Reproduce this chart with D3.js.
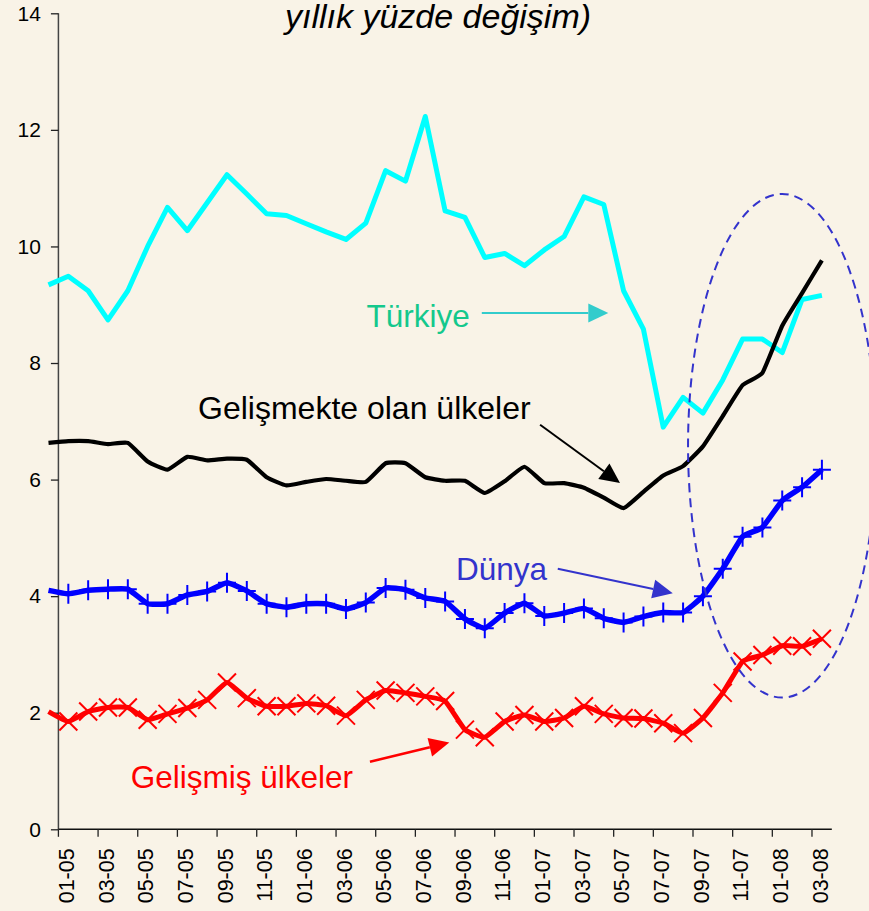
<!DOCTYPE html>
<html>
<head>
<meta charset="utf-8">
<script src="https://cdn.jsdelivr.net/npm/d3@7"></script>
<style>
  html, body { margin: 0; padding: 0; background: #f9f3e7; }
  svg { display: block; font-family: "Liberation Sans", Arial, sans-serif; }
</style>
</head>
<body>
<svg id="chart" width="869" height="911"></svg>
<script>
// Months (MM-YY), December 2004 through March 2008
const months = [
  "12-04",
  "01-05","02-05","03-05","04-05","05-05","06-05","07-05","08-05","09-05","10-05","11-05","12-05",
  "01-06","02-06","03-06","04-06","05-06","06-06","07-06","08-06","09-06","10-06","11-06","12-06",
  "01-07","02-07","03-07","04-07","05-07","06-07","07-07","08-07","09-07","10-07","11-07","12-07",
  "01-08","02-08","03-08"
];

// Annual % change by group
const turkiye = [9.34, 9.49, 9.24, 8.74, 9.24, 10.0, 10.67, 10.27, 10.75, 11.23,
                 10.9, 10.56, 10.53, 10.39, 10.25, 10.12, 10.40, 11.30, 11.12, 12.23,
                 10.61, 10.50, 9.81, 9.88, 9.67, 9.94, 10.17, 10.85, 10.72, 9.24,
                 8.58, 6.90, 7.41, 7.14, 7.71, 8.41, 8.41, 8.18, 9.09, 9.16];
const gelismekte = [6.63, 6.66, 6.66, 6.61, 6.63, 6.31, 6.17, 6.39, 6.33, 6.36,
                    6.34, 6.04, 5.90, 5.96, 6.01, 5.98, 5.96, 6.28, 6.28, 6.04,
                    5.98, 5.98, 5.77, 5.97, 6.22, 5.94, 5.94, 5.86, 5.69, 5.51,
                    5.79, 6.07, 6.23, 6.57, 7.09, 7.62, 7.83, 8.64, 9.20, 9.76];
const dunya = [4.10, 4.04, 4.10, 4.12, 4.12, 3.87, 3.87, 4.02, 4.08, 4.23,
               4.09, 3.87, 3.81, 3.87, 3.87, 3.78, 3.89, 4.14, 4.11, 3.97,
               3.91, 3.61, 3.45, 3.71, 3.88, 3.66, 3.71, 3.79, 3.62, 3.55,
               3.65, 3.72, 3.72, 4.00, 4.47, 5.02, 5.18, 5.64, 5.87, 6.17];
const gelismis = [2.02, 1.85, 2.02, 2.09, 2.09, 1.88, 1.98, 2.08, 2.22, 2.52,
                  2.25, 2.11, 2.11, 2.16, 2.12, 1.95, 2.22, 2.38, 2.34, 2.28,
                  2.20, 1.71, 1.58, 1.85, 1.96, 1.85, 1.91, 2.11, 1.98, 1.91,
                  1.90, 1.82, 1.65, 1.91, 2.34, 2.88, 2.99, 3.15, 3.14, 3.27];

const yTicks = [0, 2, 4, 6, 8, 10, 12, 14];
const titleText = "yıllık yüzde değişim)";

const svg = d3.select("#chart");

// month index -> x, value -> y
const x = d3.scaleLinear().domain([0, months.length - 1]).range([48.5, 821.9]);
const y = d3.scaleLinear().domain([0, 14]).range([829.3, 13.3]);

// Title (its first line lies above the frame)
svg.append("text")
  .attr("x", 438).attr("y", 27.5)
  .attr("text-anchor", "middle")
  .attr("font-size", 34).attr("font-style", "italic")
  .attr("fill", "#000")
  .text(titleText);

// Y axis
const yAxis = svg.append("g").attr("transform", `translate(${x(0.5)},0)`)
  .call(d3.axisLeft(y).tickValues(yTicks).tickSize(7.5).tickPadding(10).tickFormat(d3.format("d")));
yAxis.select(".domain").attr("stroke", "#444").attr("stroke-width", 1.5).attr("d", `M0,${y(14)}V${y(0)}`);
yAxis.selectAll(".tick line").attr("stroke", "#222").attr("stroke-width", 1.3);
yAxis.selectAll(".tick text").attr("font-size", 21).attr("fill", "#000")
  .attr("font-family", "'Liberation Sans', Arial, sans-serif");

// X axis: ticks between months (every second boundary), labels at odd months
const tickIdx = d3.range(0.5, months.length - 1, 2);
const labelIdx = d3.range(1, months.length, 2);
const xg = svg.append("g");
xg.append("line")
  .attr("x1", x(0.5)).attr("x2", x(months.length - 0.5))
  .attr("y1", y(0)).attr("y2", y(0))
  .attr("stroke", "#111").attr("stroke-width", 1.5);
xg.selectAll("line.tk").data(tickIdx).join("line").attr("class", "tk")
  .attr("x1", d => x(d)).attr("x2", d => x(d))
  .attr("y1", y(0)).attr("y2", y(0) + 7.5)
  .attr("stroke", "#222").attr("stroke-width", 1.3);
xg.selectAll("text").data(labelIdx).join("text")
  .attr("transform", d => `translate(${x(d) - 2},${y(0) + 19}) rotate(-90)`)
  .attr("text-anchor", "end").attr("dy", "0.36em")
  .attr("font-size", 21.5).attr("fill", "#000")
  .text(d => months[d]);

// Series lines
const soft = d3.curveCardinal.tension(0.6);
const series = [
  { values: turkiye,    color: "#00ffff", width: 5,   curve: d3.curveLinear, marker: null },
  { values: gelismekte, color: "#000000", width: 4.2, curve: soft, marker: null },
  { values: dunya,      color: "#0000ff", width: 5.5, curve: soft, marker: "plus" },
  { values: gelismis,   color: "#ff0000", width: 5,   curve: soft, marker: "cross" }
];

series.forEach(s => {
  const line = d3.line().x((d, i) => x(i)).y(d => y(d)).curve(s.curve);
  svg.append("path").datum(s.values)
    .attr("d", line)
    .attr("fill", "none")
    .attr("stroke", s.color)
    .attr("stroke-width", s.width)
    .attr("stroke-linejoin", "round");
  if (s.marker) {
    const pts = s.values.map((v, i) => ({ i, v })).filter(p => p.i > 0);
    const h = 9;
    const path = s.marker === "plus"
      ? p => `M${x(p.i) - h},${y(p.v)}H${x(p.i) + h}M${x(p.i)},${y(p.v) - h - 1}V${y(p.v) + h + 1}`
      : p => `M${x(p.i) - h},${y(p.v) - h}L${x(p.i) + h},${y(p.v) + h}M${x(p.i) - h},${y(p.v) + h}L${x(p.i) + h},${y(p.v) - h}`;
    svg.append("g").selectAll("path").data(pts).join("path")
      .attr("d", path)
      .attr("stroke", s.color)
      .attr("stroke-width", 2)
      .attr("fill", "none");
  }
});

// Highlight ellipse around the recent upturn
const ellipse = { ci: 36.99, cv: 6.58, rMonths: 4.74, rValue: 4.32 };
svg.append("ellipse")
  .attr("cx", x(ellipse.ci)).attr("cy", y(ellipse.cv))
  .attr("rx", x(ellipse.rMonths) - x(0)).attr("ry", y(0) - y(ellipse.rValue))
  .attr("fill", "none")
  .attr("stroke", "#3333cc").attr("stroke-width", 2)
  .attr("stroke-dasharray", "9,6");

// Labels and arrows (positions in month-index / value units)
const notes = [
  { text: "Türkiye", li: 16.04, lv: 8.62, size: 31.5, textColor: "#14c88c", arrowColor: "#33cccc",
    from: [21.85, 8.86], to: [28.23, 8.86], w: 2 },
  { text: "Gelişmekte olan ülkeler", li: 7.54, lv: 7.04, size: 32, textColor: "#000000", arrowColor: "#000000",
    from: [24.79, 6.94], to: [28.82, 5.94], w: 2 },
  { text: "Dünya", li: 20.55, lv: 4.28, size: 31.5, textColor: "#3333cc", arrowColor: "#3333cc",
    from: [25.68, 4.47], to: [31.48, 4.05], w: 2 },
  { text: "Gelişmiş ülkeler", li: 4.15, lv: 0.71, size: 31.5, textColor: "#ff0000", arrowColor: "#ff0000",
    from: [16.21, 1.16], to: [20.21, 1.49], w: 2.5 }
];

notes.forEach(n => {
  svg.append("text")
    .attr("x", x(n.li)).attr("y", y(n.lv))
    .attr("font-size", n.size).attr("fill", n.textColor)
    .text(n.text);
  const x1 = x(n.from[0]), y1 = y(n.from[1]);
  const x2 = x(n.to[0]), y2 = y(n.to[1]);
  const ang = Math.atan2(y2 - y1, x2 - x1);
  const L = 20, W = 9.5;
  const bx = x2 - L * Math.cos(ang), by = y2 - L * Math.sin(ang);
  svg.append("line")
    .attr("x1", x1).attr("y1", y1).attr("x2", bx).attr("y2", by)
    .attr("stroke", n.arrowColor).attr("stroke-width", n.w);
  const p1 = [bx + W * Math.sin(ang), by - W * Math.cos(ang)];
  const p2 = [bx - W * Math.sin(ang), by + W * Math.cos(ang)];
  svg.append("path")
    .attr("d", `M${x2},${y2}L${p1[0]},${p1[1]}L${p2[0]},${p2[1]}Z`)
    .attr("fill", n.arrowColor);
});
</script>
</body>
</html>
